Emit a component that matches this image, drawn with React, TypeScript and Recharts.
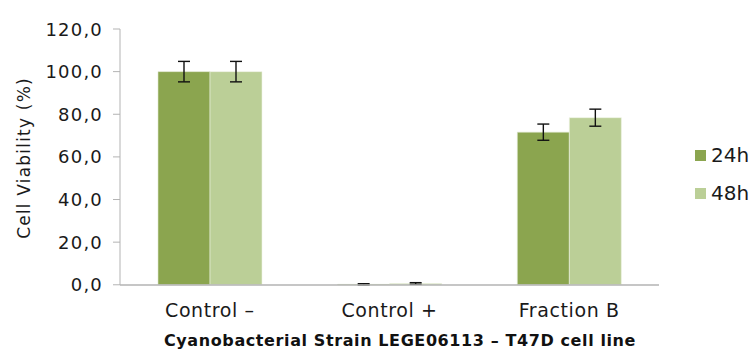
import React from 'react'
import { BarChart, Bar, XAxis, YAxis, ErrorBar } from 'recharts'

// cell viability of T47D cells after 24h / 48h exposure
const categories = ['Control \u2013', 'Control +', 'Fraction B']
const viability24h = [100, 0.2, 71.6]
const viability48h = [100, 0.6, 78.4]
const sd24h = [4.8, 0.3, 3.8]
const sd48h = [4.8, 0.4, 4.0]
const yTicks = [0, 20, 40, 60, 80, 100, 120]

const DARK = '#8ba54f'
const LIGHT = '#bbcf97'
const FONT = '"DejaVu Sans", Verdana, sans-serif'

const data = categories.map((name, i) => ({
  name,
  h24: viability24h[i],
  h48: viability48h[i],
  e24: sd24h[i],
  e48: sd48h[i],
}))

const fmt = (v: number) => v.toFixed(1).replace('.', ',')

const CategoryTick = ({ x, y, payload }: any) => (
  <text
    x={x}
    y={y + 24}
    textAnchor="middle"
    fontFamily={FONT}
    fontSize={19}
    letterSpacing={0.6}
    fill="#1a1a1a"
  >
    {payload.value}
  </text>
)

const ValueTick = ({ x, y, payload }: any) => (
  <text
    x={x - 8}
    y={y + 6.5}
    textAnchor="end"
    fontFamily={FONT}
    fontSize={18}
    letterSpacing={1.2}
    fill="#1a1a1a"
  >
    {fmt(payload.value)}
  </text>
)

const LegendBox = () => (
  <div
    style={{
      position: 'absolute',
      left: 695,
      top: 136,
      fontFamily: FONT,
      fontSize: 20,
      color: '#1a1a1a',
    }}
  >
    {[
      { label: '24h', color: DARK },
      { label: '48h', color: LIGHT },
    ].map((item) => (
      <div
        key={item.label}
        style={{ display: 'flex', alignItems: 'center', height: 38 }}
      >
        <span
          style={{
            width: 11,
            height: 11,
            background: item.color,
            marginRight: 5,
            display: 'inline-block',
          }}
        />
        {item.label}
      </div>
    ))}
  </div>
)

export default function App() {
  return (
    <div
      style={{
        position: 'absolute',
        left: 0,
        top: 0,
        width: 753,
        height: 350,
        background: '#fff',
      }}
    >
      <BarChart
        width={753}
        height={350}
        data={data}
        margin={{ top: 29, right: 94, bottom: 0, left: 0 }}
        barCategoryGap={38}
        barGap={0}
      >
        <XAxis
          dataKey="name"
          height={65}
          tick={<CategoryTick />}
          tickLine={false}
          axisLine={{ stroke: '#b3b3b3', strokeWidth: 1.5 }}
        />
        <YAxis
          width={120}
          domain={[0, 120]}
          ticks={yTicks}
          tick={<ValueTick />}
          tickSize={7}
          tickLine={{ stroke: '#b3b3b3' }}
          axisLine={{ stroke: '#b3b3b3' }}
        />
        <Bar dataKey="h24" fill={DARK} stroke="#dfe8cf" strokeWidth={0.6} isAnimationActive={false}>
          <ErrorBar dataKey="e24" width={6} stroke="#111" strokeWidth={1.4} />
        </Bar>
        <Bar dataKey="h48" fill={LIGHT} stroke="#eef3e4" strokeWidth={0.6} isAnimationActive={false}>
          <ErrorBar dataKey="e48" width={6} stroke="#111" strokeWidth={1.4} />
        </Bar>
      </BarChart>
      <div
        style={{
          position: 'absolute',
          left: 24,
          top: 158,
          transform: 'translate(-50%, -50%) rotate(-90deg)',
          fontFamily: FONT,
          fontSize: 17,
          letterSpacing: 1.2,
          whiteSpace: 'nowrap',
          color: '#1a1a1a',
        }}
      >
        Cell Viability (%)
      </div>
      <div
        style={{
          position: 'absolute',
          left: 400,
          top: 340,
          transform: 'translate(-50%, -50%)',
          fontFamily: FONT,
          fontSize: 16,
          letterSpacing: 0.6,
          fontWeight: 'bold',
          whiteSpace: 'nowrap',
          color: '#111',
        }}
      >
        Cyanobacterial Strain LEGE06113 &ndash; T47D cell line
      </div>
      <LegendBox />
    </div>
  )
}
